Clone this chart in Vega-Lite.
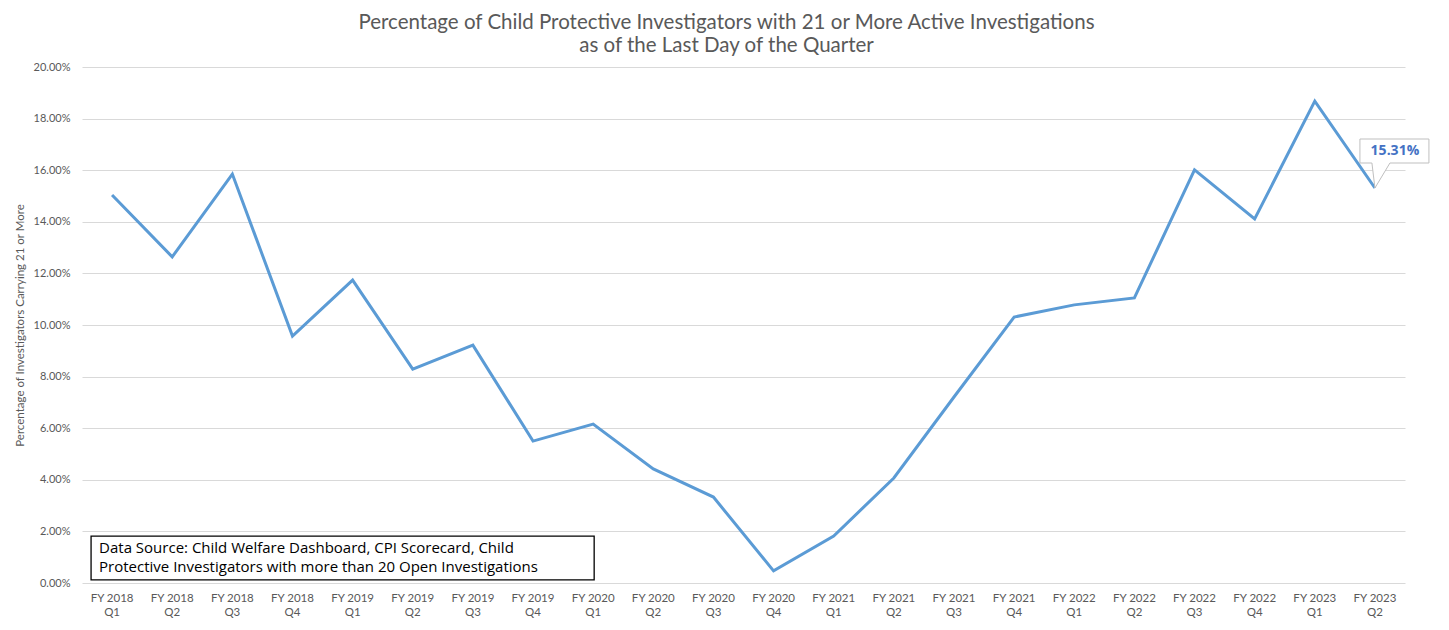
{
  "$schema": "https://vega.github.io/schema/vega-lite/v6.json",
  "autosize": {"type": "none"},
  "width": 1323,
  "height": 516,
  "padding": {"left": 82, "top": 67, "right": 44, "bottom": 47},
  "background": "white",
  "config": {
    "view": {"stroke": null},
    "font": "Lato",
    "axis": {"labelFont": "Lato", "titleFont": "Lato"}
  },
  "title": {
    "text": ["Percentage of Child Protective Investigators with 21 or More Active Investigations", "as of the Last Day of the Quarter"],
    "font": "Lato",
    "fontSize": 20.5,
    "fontWeight": "normal",
    "color": "#595959",
    "lineHeight": 23,
    "anchor": "middle",
    "dx": -17,
    "offset": 5
  },
  "datasets": {
    "series": [
      {"quarter": "FY 2018 Q1", "pct": 0.1504},
      {"quarter": "FY 2018 Q2", "pct": 0.1264},
      {"quarter": "FY 2018 Q3", "pct": 0.1585},
      {"quarter": "FY 2018 Q4", "pct": 0.0957},
      {"quarter": "FY 2019 Q1", "pct": 0.1174},
      {"quarter": "FY 2019 Q2", "pct": 0.0829},
      {"quarter": "FY 2019 Q3", "pct": 0.0922},
      {"quarter": "FY 2019 Q4", "pct": 0.0550},
      {"quarter": "FY 2020 Q1", "pct": 0.0616},
      {"quarter": "FY 2020 Q2", "pct": 0.0442},
      {"quarter": "FY 2020 Q3", "pct": 0.0333},
      {"quarter": "FY 2020 Q4", "pct": 0.0047},
      {"quarter": "FY 2021 Q1", "pct": 0.0182},
      {"quarter": "FY 2021 Q2", "pct": 0.0407},
      {"quarter": "FY 2021 Q3", "pct": 0.0721},
      {"quarter": "FY 2021 Q4", "pct": 0.1031},
      {"quarter": "FY 2022 Q1", "pct": 0.1078},
      {"quarter": "FY 2022 Q2", "pct": 0.1105},
      {"quarter": "FY 2022 Q3", "pct": 0.1601},
      {"quarter": "FY 2022 Q4", "pct": 0.1411},
      {"quarter": "FY 2023 Q1", "pct": 0.1868},
      {"quarter": "FY 2023 Q2", "pct": 0.1531}
    ],
    "note": [
      {"from": "FY 2018 Q1", "to": "FY 2020 Q1", "lo": 0.0012, "hi": 0.0182, "mid": 0.0100,
       "text": "Data Source: Child Welfare Dashboard, CPI Scorecard, Child\nProtective Investigators with more than 20 Open Investigations"}
    ]
  },
  "layer": [
    {
      "data": {"name": "series"},
      "mark": {"type": "line", "color": "#5B9BD5", "strokeWidth": 3},
      "encoding": {
        "x": {
          "field": "quarter", "type": "ordinal", "sort": null,
          "scale": {"paddingInner": 0, "paddingOuter": 0},
          "axis": {
            "title": null, "labelAngle": 0, "ticks": false, "domain": false, "grid": false,
            "labelFontSize": 11.5, "labelColor": "#595959", "labelPadding": 9, "labelLineHeight": 14,
            "labelExpr": "[slice(datum.value, 0, 7), slice(datum.value, 8)]"
          }
        },
        "y": {
          "field": "pct", "type": "quantitative",
          "scale": {"domain": [0, 0.2]},
          "axis": {
            "title": "Percentage of Investigators Carrying 21 or More",
            "titleFontSize": 11.5, "titleFontWeight": "normal", "titleColor": "#595959", "titlePadding": 8,
            "format": ".2%", "values": [0, 0.02, 0.04, 0.06, 0.08, 0.1, 0.12, 0.14, 0.16, 0.18, 0.2],
            "labelFontSize": 11, "labelColor": "#595959", "labelPadding": 12,
            "ticks": false, "domain": false, "grid": true, "gridColor": "#d9d9d9", "gridWidth": 1
          }
        }
      }
    },
    {
      "data": {"name": "note"},
      "mark": {"type": "rect", "fill": "white", "stroke": "black", "strokeWidth": 1.3, "xOffset": -21, "x2Offset": 1},
      "encoding": {
        "x": {"field": "from", "type": "ordinal", "bandPosition": 0.5},
        "x2": {"field": "to"},
        "y": {"field": "lo", "type": "quantitative"},
        "y2": {"field": "hi"}
      }
    },
    {
      "data": {"name": "note"},
      "mark": {"type": "text", "align": "left", "baseline": "middle", "dx": -13, "dy": -9, "fontSize": 15, "lineHeight": 19, "lineBreak": "\n", "color": "black", "font": "Open Sans"},
      "encoding": {
        "x": {"field": "from", "type": "ordinal"},
        "y": {"field": "mid", "type": "quantitative"},
        "text": {"field": "text"}
      }
    },
    {
      "data": {"name": "series"},
      "transform": [{"filter": "datum.quarter == 'FY 2023 Q2'"}],
      "mark": {"type": "point", "shape": "M -15 -49 L 54 -49 L 54 -25 L 15 -25 L 0 0 L -3 -25 L -15 -25 Z", "size": 4, "filled": true, "fill": "white", "stroke": "#bfbfbf", "strokeWidth": 1, "opacity": 1},
      "encoding": {
        "x": {"field": "quarter", "type": "ordinal", "sort": null},
        "y": {"field": "pct", "type": "quantitative"}
      }
    },
    {
      "data": {"name": "series"},
      "transform": [{"filter": "datum.quarter == 'FY 2023 Q2'"}],
      "mark": {"type": "text", "dx": 20, "dy": -37, "fontSize": 14, "fontWeight": "bold", "color": "#4472C4", "align": "center", "baseline": "middle", "font": "Open Sans"},
      "encoding": {
        "x": {"field": "quarter", "type": "ordinal", "sort": null},
        "y": {"field": "pct", "type": "quantitative"},
        "text": {"field": "pct", "type": "quantitative", "format": ".2%"}
      }
    }
  ]
}
